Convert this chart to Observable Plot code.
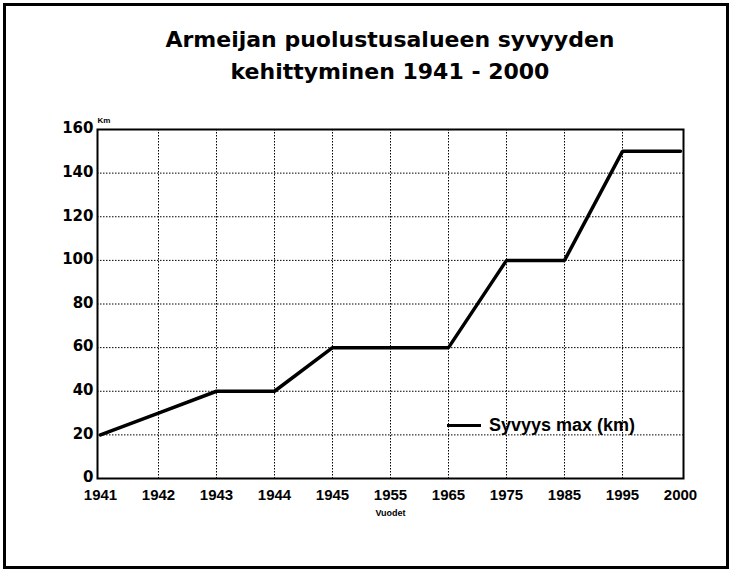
<!DOCTYPE html>
<html><head><meta charset="utf-8">
<script src="https://cdn.jsdelivr.net/npm/d3@7"></script>
<script src="https://cdn.jsdelivr.net/npm/@observablehq/plot@0.6"></script>
<style>
body{margin:0;background:#fff;}
#page{position:relative;width:730px;height:570px;overflow:hidden;background:#fff;}
#border{position:absolute;left:3px;top:3px;width:726px;height:566px;box-sizing:border-box;border:3px solid #000;pointer-events:none;}
#title{position:absolute;left:97px;width:586px;top:24px;text-align:center;font:bold 22px/32px "DejaVu Sans",sans-serif;color:#000;}
#chart{position:absolute;left:0;top:100px;}
#legend{position:absolute;left:447px;top:414px;height:22px;display:flex;align-items:center;font:bold 18px "Liberation Sans",Arial,sans-serif;color:#000;background:transparent;}
#legend .sw{display:inline-block;width:34px;height:3px;background:#000;margin-right:8px;}
</style>
</head><body>
<div id="page">
  <div id="title"></div>
  <div id="chart"></div>
  <div id="legend"></div>
  <div id="border"></div>
</div>
<script>
const titleLines = ["Armeijan puolustusalueen syvyyden", "kehittyminen 1941 - 2000"];
const years = ["1941","1942","1943","1944","1945","1955","1965","1975","1985","1995","2000"];
const depth = [20, 30, 40, 40, 60, 60, 60, 100, 100, 150, 150];
const yTicks = [0, 20, 40, 60, 80, 100, 120, 140, 160];
const seriesName = "Syvyys max (km)";
const yLabel = "Km";
const xLabel = "Vuodet";

const data = years.map((y, i) => ({year: y, value: depth[i]}));

document.getElementById("title").innerHTML = titleLines.join("<br>");
const lg = document.getElementById("legend");
lg.innerHTML = '<span class="sw"></span><span></span>';
lg.lastChild.textContent = seriesName;

const grid = {stroke: "#000", strokeOpacity: 1, strokeWidth: 1, strokeDasharray: "1.5,1.5"};
const tickFont = {fontWeight: "bold", fontFamily: "Liberation Sans, Arial, sans-serif", fill: "#000"};

const chart = Plot.plot({
  width: 730,
  height: 470,
  marginLeft: 97,
  marginRight: 47,
  marginTop: 29,
  marginBottom: 92,
  style: {background: "transparent", color: "#000", overflow: "visible"},
  x: {type: "point", domain: years, padding: 0},
  y: {domain: [0, 160]},
  marks: [
    Plot.gridX(years.slice(1, -1), grid),
    Plot.gridY(yTicks.slice(1, -1), grid),
    Plot.frame({stroke: "#000", strokeWidth: 2}),
    Plot.line(data, {x: "year", y: "value", stroke: "#000", strokeWidth: 3.5, strokeLinejoin: "miter"}),
    Plot.axisX(years, {tickSize: 0, tickPadding: 11, fontSize: 15, label: null, ...tickFont}),
    Plot.axisY(yTicks, {tickSize: 0, tickPadding: 4, fontSize: 15, dy: -1, label: null, fontWeight: "bold", fontFamily: "DejaVu Sans, sans-serif", fill: "#000"}),
    Plot.text([yLabel], {text: d => d, frameAnchor: "top-left", dx: 0, dy: -12, textAnchor: "start", fontSize: 8, ...tickFont}),
    Plot.text([xLabel], {text: d => d, frameAnchor: "bottom", dy: 37, fontSize: 9, ...tickFont})
  ]
});
document.getElementById("chart").appendChild(chart);
</script>
</body></html>
